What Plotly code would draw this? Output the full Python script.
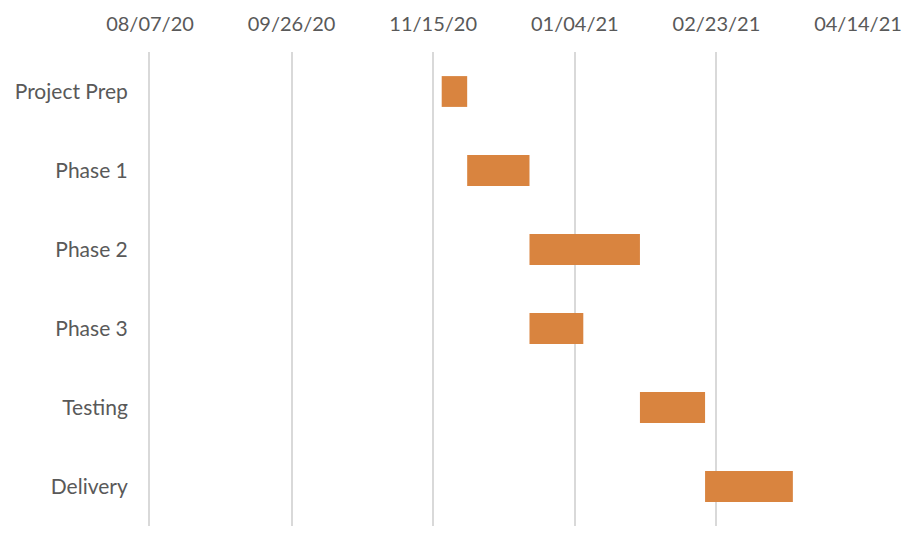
import plotly.graph_objects as go

tasks = ["Project Prep", "Phase 1", "Phase 2", "Phase 3", "Testing", "Delivery"]
start_dates = ["2020-11-18", "2020-11-27", "2020-12-19", "2020-12-19", "2021-01-27", "2021-02-19"]
durations_days = [9, 22, 39, 19, 23, 31]

axis_min = "2020-08-07"
axis_max = "2021-04-14"
tick_step_days = 50

DAY_MS = 86400000
fig = go.Figure(go.Bar(
    y=tasks,
    x=[d * DAY_MS for d in durations_days],
    base=start_dates,
    orientation="h",
    marker=dict(color="#d9843f", line=dict(width=0)),
    width=0.39,
    hoverinfo="skip",
))

font_family = "Lato, Liberation Sans, Arial"
fig.update_layout(
    width=914, height=538,
    margin=dict(l=142, r=64, t=44, b=20, autoexpand=False),
    paper_bgcolor="white", plot_bgcolor="white",
    showlegend=False,
    font=dict(family=font_family, color="#595959", size=21),
)
fig.update_xaxes(
    type="date",
    range=[axis_min, axis_max],
    side="top",
    tick0=axis_min,
    dtick=tick_step_days * DAY_MS,
    tickformat="%m/%d/%y",
    showgrid=True, gridcolor="#d9d9d9", gridwidth=2,
    showline=False, zeroline=False,
    ticks="", ticklabelstandoff=16,
    tickfont=dict(size=20, color="#595959"),
)
fig.update_yaxes(
    type="category",
    autorange="reversed",
    showgrid=False, zeroline=False,
    showline=True, linecolor="#d9d9d9", linewidth=2,
    ticks="", ticklabelstandoff=16,
    tickfont=dict(size=21, color="#595959"),
)
fig.write_html("out.html")
